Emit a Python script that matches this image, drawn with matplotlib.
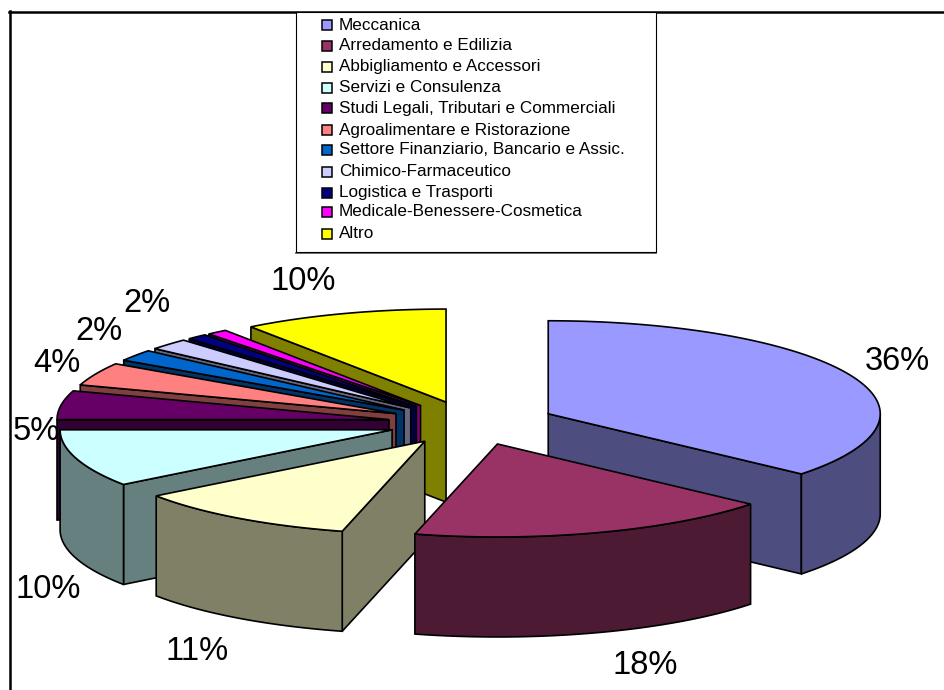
import numpy as np
import matplotlib
matplotlib.use("Agg")
import matplotlib.pyplot as plt
from matplotlib.patches import Polygon, Rectangle

plt.rcParams['font.family'] = ['Liberation Sans', 'DejaVu Sans']

categories = ["Meccanica", "Arredamento e Edilizia", "Abbigliamento e Accessori",
              "Servizi e Consulenza", "Studi Legali, Tributari e Commerciali",
              "Agroalimentare e Ristorazione", "Settore Finanziario, Bancario e Assic.",
              "Chimico-Farmaceutico", "Logistica e Trasporti",
              "Medicale-Benessere-Cosmetica", "Altro"]
values = [36.2, 17.8, 11.0, 10.0, 5, 4, 2, 2, 1, 1, 10]
top_colors = ["#9999FF", "#993366", "#FFFFCC", "#CCFFFF", "#660066", "#FF8080",
              "#0066CC", "#CCCCFF", "#000080", "#FF00FF", "#FFFF00"]
side_colors = ["#4D4D80", "#4D1A33", "#808066", "#668080", "#330033", "#804040",
               "#003366", "#666680", "#000040", "#800080", "#808000"]

# pct labels, the two 1% slices have none in the original
pct_labels = ["36%", "18%", "11%", "10%", "5%", "4%", "2%", "2%", None, None, "10%"]
label_pos = [(897, 362), (645, 666), (197, 652), (48, 589), (36, 432), (57, 364),
             (99, 331), (147, 303), None, None, (303, 281)]
legend_y = [25, 46, 67, 88, 108, 130, 150, 172, 193, 212, 234]

# pie geometry in pixels (axes run in image coords)
cx, cy = 472, 423
rx, ry = 332, 93
depth = 100
ex, ey = 84, 22  # explode offset
draw_order = [10, 9, 8, 7, 6, 5, 4, 3, 2, 0, 1]

fig = plt.figure(figsize=(9.44, 6.9), dpi=100)
ax = fig.add_axes([0, 0, 1, 1])
ax.set_xlim(0, 944); ax.set_ylim(690, 0); ax.axis('off')

# chart frame, only left and top fall inside the picture
ax.plot([9.5, 9.5], [11, 690], color='black', lw=1.8, zorder=1)
ax.plot([9, 944], [11.5, 11.5], color='black', lw=1.8, zorder=1)

def rim(x0, y0, a):
    return x0 + rx*np.sin(a), y0 - ry*np.cos(a)

shares = np.array(values) / sum(values) * 2*np.pi
ends = np.cumsum(shares)
starts = ends - shares

z = 2
for i in draw_order:
    a0, a1 = starts[i], ends[i]
    mid = (a0 + a1) / 2
    x0 = cx + ex*np.sin(mid)
    y0 = cy - ey*np.cos(mid)

    # radial walls that face the viewer
    for a, show in ((a0, np.sin(a0) < -1e-6), (a1, np.sin(a1) > 1e-6)):
        if show:
            xe, ye = rim(x0, y0, a)
            ax.add_patch(Polygon([(x0, y0), (xe, ye), (xe, ye+depth), (x0, y0+depth)],
                                 fc=side_colors[i], ec='black', lw=1.2, zorder=z))
            z += 1

    # outer wall, only the front half of the rim shows
    lo, hi = max(a0, np.pi/2), min(a1, 3*np.pi/2)
    if hi > lo:
        t = np.linspace(lo, hi, 80)
        xs, ys = rim(x0, y0, t)
        pts = list(zip(xs, ys)) + list(zip(xs[::-1], ys[::-1] + depth))
        ax.add_patch(Polygon(pts, fc=side_colors[i], ec='black', lw=1.2, zorder=z))
        z += 1

    # top face
    t = np.linspace(a0, a1, 120)
    xs, ys = rim(x0, y0, t)
    pts = [(x0, y0)] + list(zip(xs, ys))
    ax.add_patch(Polygon(pts, fc=top_colors[i], ec='black', lw=1.2, zorder=z))
    z += 1

for lab, pos in zip(pct_labels, label_pos):
    if lab is not None:
        ax.text(pos[0], pos[1], lab, fontsize=23.5, ha='center', va='center', color='black', zorder=200)

# legend box sits over the frame
ax.plot([296, 656], [252.5, 252.5], color='#707070', lw=1.4, zorder=100)
ax.add_patch(Rectangle((296, 12), 359.5, 240, fc='white', ec='black', lw=0.8, zorder=101))
for name, col, y in zip(categories, top_colors, legend_y):
    ax.add_patch(Rectangle((322, y-5), 10, 10, fc=col, ec='black', lw=1.1, zorder=102))
    ax.text(339, y, name, fontsize=12.3, ha='left', va='center', color='black', zorder=102)

fig.savefig("out.png", dpi=100)
